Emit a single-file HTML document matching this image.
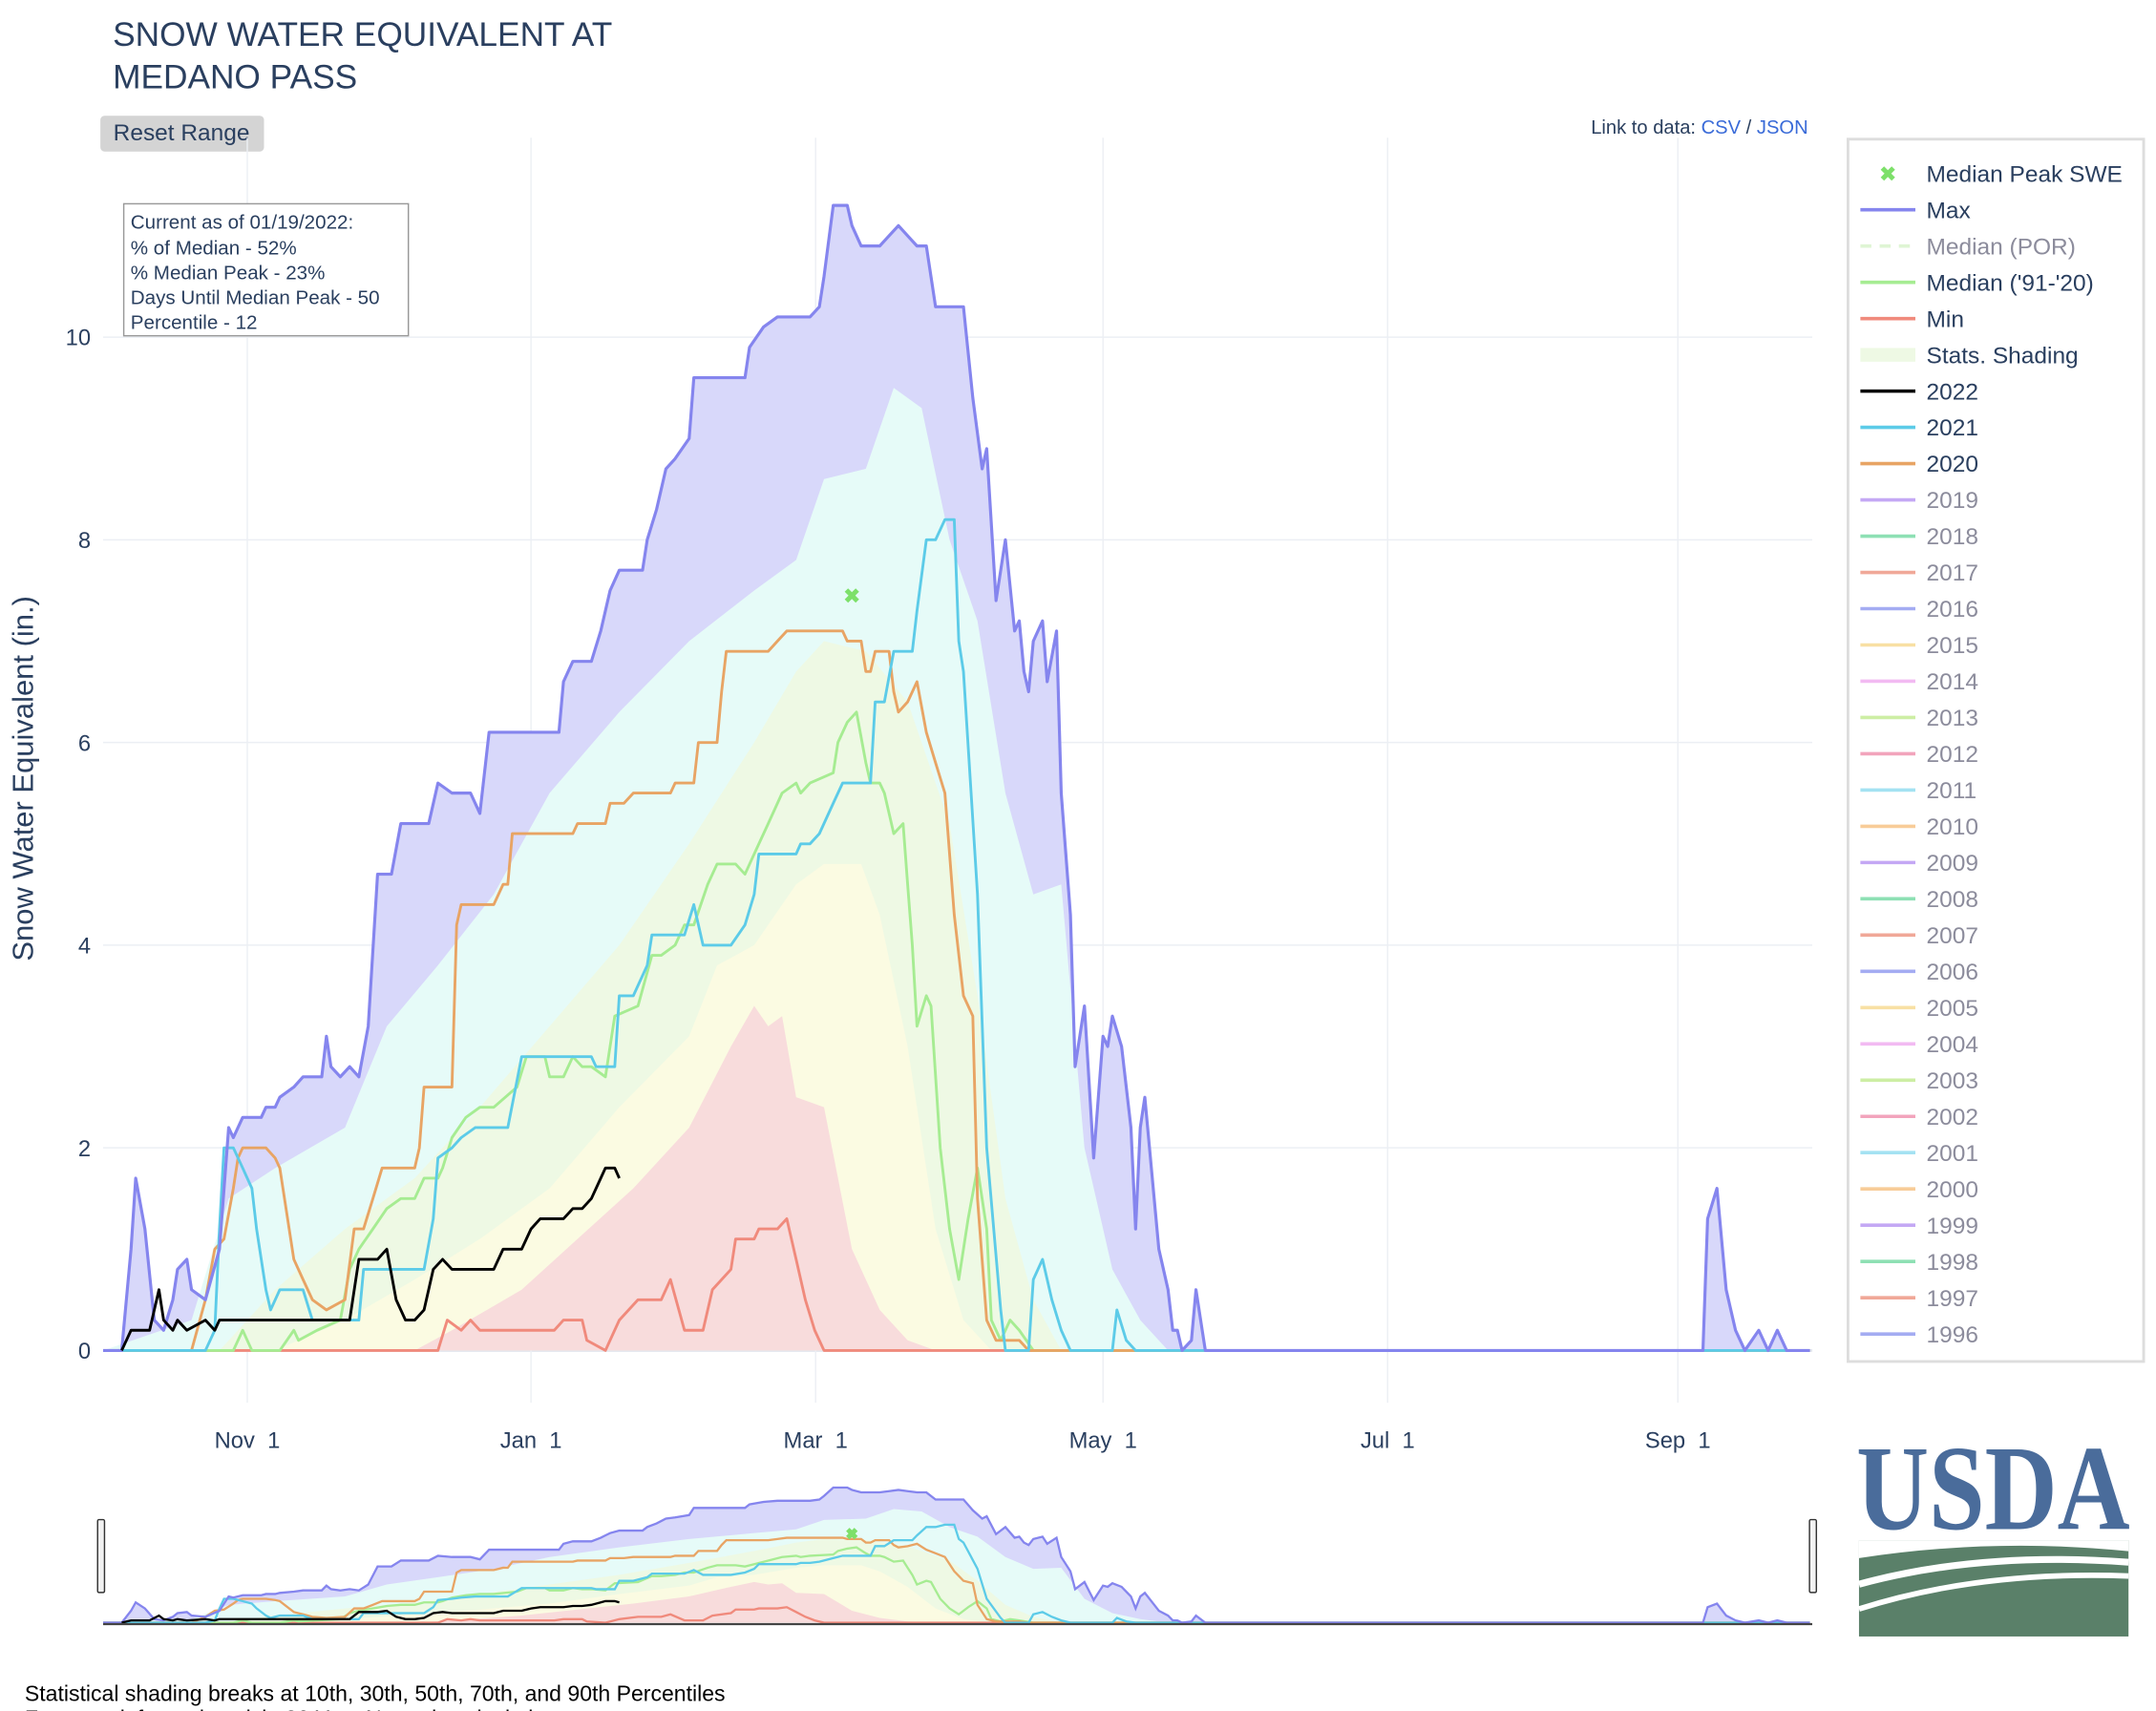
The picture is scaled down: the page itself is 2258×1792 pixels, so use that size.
<!DOCTYPE html>
<html><head><meta charset="utf-8"><style>
html,body{margin:0;padding:0;background:#fff;}
svg{display:block;font-family:"Liberation Sans",sans-serif;}
</style></head><body>
<svg id="chart" width="2258" height="1792" viewBox="0 0 1568 1244" xmlns="http://www.w3.org/2000/svg">
<text x="82" y="33" font-size="24.5" fill="#2a3f5f">SNOW WATER EQUIVALENT AT</text>
<text x="82" y="64" font-size="24.5" fill="#2a3f5f">MEDANO PASS</text>
<g><rect x="73" y="84" width="119" height="26" rx="3" fill="#d4d4d4"/><text x="132" y="102" font-size="17" fill="#2a3f5f" text-anchor="middle">Reset Range</text></g>
<text x="1315" y="97" font-size="14" fill="#2a3f5f" text-anchor="end">Link to data: <tspan fill="#3a6bd8">CSV</tspan> / <tspan fill="#3a6bd8">JSON</tspan></text>
<g id="grid"></g>
<g id="bands"></g>
<g id="lines"></g>
<g id="axes"></g>
<g>
<rect x="90" y="148" width="207" height="96" fill="#fff" stroke="#999"/>
<text x="95" y="166" font-size="14.3" fill="#2a3f5f">Current as of 01/19/2022:</text>
<text x="95" y="185" font-size="14.3" fill="#2a3f5f">% of Median - 52%</text>
<text x="95" y="203" font-size="14.3" fill="#2a3f5f">% Median Peak - 23%</text>
<text x="95" y="221" font-size="14.3" fill="#2a3f5f">Days Until Median Peak - 50</text>
<text x="95" y="239" font-size="14.3" fill="#2a3f5f">Percentile - 12</text>
</g>
<text transform="translate(24,566) rotate(-90)" font-size="21.5" fill="#2a3f5f" text-anchor="middle">Snow Water Equivalent (in.)</text>
<g id="nav"></g>
<rect x="1344" y="101" width="215" height="889" fill="#fff" stroke="#ddd" stroke-width="2"/>
<g id="legend"></g>
<g>
<text x="1350" y="1112" font-family="Liberation Serif,serif" font-weight="bold" font-size="88" fill="#4a6c9b" textLength="199" lengthAdjust="spacingAndGlyphs">USDA</text>
<rect x="1352" y="1120" width="196" height="70" fill="#5a8069"/>
<path d="M1352 1133 Q1450 1118 1548 1128 L1548 1120 L1352 1120 Z" fill="#fff"/>
<path d="M1352 1152 Q1440 1128 1548 1136" stroke="#fff" stroke-width="5" fill="none"/>
<path d="M1352 1170 Q1440 1142 1548 1146" stroke="#fff" stroke-width="4" fill="none"/>
</g>
<text x="18" y="1237" font-size="16" fill="#000">Statistical shading breaks at 10th, 30th, 50th, 70th, and 90th Percentiles</text>
<text x="18" y="1255" font-size="16" fill="#000">For more information visit: 30 Year Normals calculation</text>
</svg>
<script>
// data: [day index along x axis, SWE inches]
const maxSeries=[[0,0],[4,0],[6,1.0],[7,1.7],[9,1.2],[11,0.3],[13,0.2],[15,0.5],[16,0.8],[18,0.9],[19,0.6],[22,0.5],[25,1.0],[27,2.2],[28,2.1],[30,2.3],[34,2.3],[35,2.4],[37,2.4],[38,2.5],[41,2.6],[43,2.7],[47,2.7],[48,3.1],[49,2.8],[51,2.7],[53,2.8],[55,2.7],[57,3.2],[59,4.7],[62,4.7],[64,5.2],[70,5.2],[72,5.6],[75,5.5],[79,5.5],[81,5.3],[83,6.1],[98,6.1],[99,6.6],[101,6.8],[105,6.8],[107,7.1],[109,7.5],[111,7.7],[116,7.7],[117,8.0],[119,8.3],[121,8.7],[123,8.8],[126,9.0],[127,9.6],[138,9.6],[139,9.9],[142,10.1],[145,10.2],[152,10.2],[154,10.3],[155,10.6],[157,11.3],[160,11.3],[161,11.1],[163,10.9],[167,10.9],[169,11.0],[171,11.1],[173,11.0],[175,10.9],[177,10.9],[179,10.3],[185,10.3],[187,9.4],[189,8.7],[190,8.9],[192,7.4],[194,8.0],[196,7.1],[197,7.2],[198,6.7],[199,6.5],[200,7.0],[202,7.2],[203,6.6],[205,7.1],[206,5.5],[208,4.3],[209,2.8],[211,3.4],[213,1.9],[215,3.1],[216,3.0],[217,3.3],[219,3.0],[221,2.2],[222,1.2],[223,2.2],[224,2.5],[227,1.0],[229,0.6],[230,0.2],[231,0.2],[232,0],[234,0.1],[235,0.6],[237,0],[344,0],[345,1.3],[347,1.6],[349,0.6],[351,0.2],[353,0],[356,0.2],[358,0],[360,0.2],[362,0],[367,0]];
const minSeries=[[0,0],[72,0],[74,0.3],[77,0.2],[79,0.3],[81,0.2],[97,0.2],[99,0.3],[103,0.3],[104,0.1],[108,0],[111,0.3],[115,0.5],[120,0.5],[122,0.7],[125,0.2],[129,0.2],[131,0.6],[135,0.8],[136,1.1],[140,1.1],[141,1.2],[145,1.2],[147,1.3],[149,0.9],[151,0.5],[153,0.2],[155,0],[367,0]];
const wy2022=[[4,0],[6,0.2],[10,0.2],[12,0.6],[13,0.3],[15,0.2],[16,0.3],[18,0.2],[22,0.3],[24,0.2],[25,0.3],[53,0.3],[55,0.9],[59,0.9],[61,1.0],[63,0.5],[65,0.3],[67,0.3],[69,0.4],[71,0.8],[73,0.9],[75,0.8],[84,0.8],[86,1.0],[90,1.0],[92,1.2],[94,1.3],[99,1.3],[101,1.4],[103,1.4],[105,1.5],[107,1.7],[108,1.8],[110,1.8],[111,1.7]];
const wy2021=[[0,0],[22,0],[24,0.2],[25,1.2],[26,2.0],[28,2.0],[30,1.8],[32,1.6],[33,1.2],[35,0.6],[36,0.4],[38,0.6],[43,0.6],[45,0.3],[55,0.3],[56,0.8],[69,0.8],[71,1.3],[72,1.9],[75,2.0],[77,2.1],[80,2.2],[87,2.2],[90,2.9],[105,2.9],[106,2.8],[110,2.8],[111,3.5],[114,3.5],[117,3.8],[118,4.1],[125,4.1],[127,4.4],[129,4.0],[135,4.0],[138,4.2],[140,4.5],[141,4.9],[149,4.9],[150,5.0],[152,5.0],[154,5.1],[157,5.4],[159,5.6],[165,5.6],[166,6.4],[168,6.4],[170,6.9],[174,6.9],[175,7.3],[177,8.0],[179,8.0],[181,8.2],[183,8.2],[184,7.0],[185,6.7],[188,4.5],[190,2.0],[193,0.4],[194,0],[199,0],[200,0.7],[202,0.9],[204,0.5],[206,0.2],[208,0],[217,0],[218,0.4],[220,0.1],[222,0],[367,0]];
const wy2020=[[0,0],[19,0],[22,0.5],[24,1.0],[26,1.1],[28,1.6],[29,1.9],[30,2.0],[35,2.0],[37,1.9],[38,1.8],[40,1.2],[41,0.9],[43,0.7],[45,0.5],[48,0.4],[52,0.5],[54,1.2],[56,1.2],[58,1.5],[60,1.8],[67,1.8],[68,2.0],[69,2.6],[75,2.6],[76,4.2],[77,4.4],[84,4.4],[86,4.6],[87,4.6],[88,5.1],[101,5.1],[102,5.2],[108,5.2],[109,5.4],[112,5.4],[114,5.5],[122,5.5],[123,5.6],[127,5.6],[128,6.0],[132,6.0],[133,6.5],[134,6.9],[143,6.9],[145,7.0],[147,7.1],[159,7.1],[160,7.0],[163,7.0],[164,6.7],[165,6.7],[166,6.9],[169,6.9],[170,6.5],[171,6.3],[173,6.4],[175,6.6],[177,6.1],[179,5.8],[181,5.5],[183,4.3],[185,3.5],[187,3.3],[188,1.5],[190,0.3],[192,0.1],[197,0.1],[199,0],[367,0]];
const median9120=[[0,0],[28,0],[30,0.2],[32,0],[38,0],[41,0.2],[42,0.1],[46,0.2],[51,0.3],[53,0.8],[55,1.0],[58,1.2],[61,1.4],[64,1.5],[67,1.5],[69,1.7],[72,1.7],[73,1.8],[75,2.1],[78,2.3],[81,2.4],[84,2.4],[89,2.6],[91,2.9],[95,2.9],[96,2.7],[99,2.7],[101,2.9],[103,2.8],[105,2.8],[108,2.7],[110,3.3],[115,3.4],[118,3.9],[120,3.9],[123,4.0],[125,4.2],[127,4.2],[130,4.6],[132,4.8],[136,4.8],[138,4.7],[140,4.9],[143,5.2],[146,5.5],[149,5.6],[150,5.5],[152,5.6],[157,5.7],[158,6.0],[160,6.2],[162,6.3],[164,5.8],[165,5.6],[167,5.6],[168,5.5],[170,5.1],[172,5.2],[173,4.6],[174,4.0],[175,3.2],[177,3.5],[178,3.4],[180,2.0],[182,1.2],[184,0.7],[186,1.3],[188,1.8],[190,1.2],[191,0.3],[193,0.1],[195,0.3],[197,0.2],[200,0],[367,0]];
const p90=[[0,0],[19,0.3],[27,1.5],[37,1.8],[52,2.2],[61,3.2],[72,3.8],[84,4.5],[96,5.5],[111,6.3],[126,7.0],[140,7.5],[149,7.8],[155,8.6],[164,8.7],[170,9.5],[176,9.3],[182,8.0],[188,7.2],[194,5.5],[200,4.5],[206,4.6],[211,2.0],[217,0.8],[223,0.3],[229,0],[367,0]];
const p70=[[0,0],[25,0],[37,0.6],[52,1.2],[67,1.7],[81,2.4],[96,3.2],[111,4.0],[126,5.0],[140,6.0],[149,6.7],[155,7.0],[164,6.9],[173,6.4],[182,5.2],[188,3.5],[194,1.5],[200,0.5],[206,0],[367,0]];
const p50=[[0,0],[37,0],[52,0.3],[67,0.7],[81,1.1],[96,1.6],[111,2.4],[126,3.1],[132,3.8],[140,4.0],[149,4.6],[155,4.8],[163,4.8],[167,4.3],[173,3.0],[179,1.2],[185,0.3],[191,0],[367,0]];
const p30=[[0,0],[67,0],[75,0.2],[90,0.6],[102,1.1],[114,1.6],[126,2.2],[135,3.0],[140,3.4],[143,3.2],[146,3.3],[149,2.5],[155,2.4],[161,1.0],[167,0.4],[173,0.1],[179,0],[367,0]];
const medianPeak=[161,7.45];
const yTicks=[0,2,4,6,8,10];
const xTickDays=[31,92,153.2,215,276.2,338.6];
const xTickLabels=["Nov\u00a0\u00a01","Jan\u00a0\u00a01","Mar\u00a0\u00a01","May\u00a0\u00a01","Jul\u00a0\u00a01","Sep\u00a0\u00a01"];
const legendNames=["Median Peak SWE","Max","Median (POR)","Median ('91-'20)","Min","Stats. Shading","2022","2021","2020","2019","2018","2017","2016","2015","2014","2013","2012","2011","2010","2009","2008","2007","2006","2005","2004","2003","2002","2001","2000","1999","1998","1997","1996"];

const NS="http://www.w3.org/2000/svg";
const X0=75,X1=1318,DAYS=367.5;
const X=d=>X0+d*(X1-X0)/DAYS;
const Y=v=>982-v*73.7;
const NY=v=>1180-v*8.7;
function mk(tag,attrs,parent){const e=document.createElementNS(NS,tag);for(const k in attrs)e.setAttribute(k,attrs[k]);parent.appendChild(e);return e;}
const grid=document.getElementById('grid'),bands=document.getElementById('bands'),lines=document.getElementById('lines'),axes=document.getElementById('axes'),nav=document.getElementById('nav'),legend=document.getElementById('legend');
yTicks.forEach(t=>{
 const l=mk('line',{x1:X0,x2:X1,y1:Y(t),y2:Y(t),stroke:t===0?'#e2e6ee':'#eceff4','stroke-width':t===0?2:1},grid);
 
 
 const tx=mk('text',{x:66,y:Y(t)+6,'font-size':16.5,fill:'#2a3f5f','text-anchor':'end'},axes);
 tx.textContent=t;
 
 
});
xTickDays.forEach((d,i)=>{
 const l=mk('line',{x1:X(d),x2:X(d),y1:100,y2:1020,stroke:'#eceff4'},grid);
 
 
 const tx=mk('text',{x:X(d),y:1053,'font-size':16.5,fill:'#2a3f5f','text-anchor':'middle'},axes);
 tx.textContent=xTickLabels[i];
 
 
});
function area(arr,ys){let s='M'+X(arr[0][0])+' '+ys(0);arr.forEach(p=>s+=' L'+X(p[0]).toFixed(1)+' '+ys(p[1]).toFixed(1));return s+' L'+X(arr[arr.length-1][0])+' '+ys(0)+' Z';}
function line(arr,ys){return arr.map((p,i)=>(i?'L':'M')+X(p[0]).toFixed(1)+' '+ys(p[1]).toFixed(1)).join(' ');}
const bandDefs=[[maxSeries,'#d8d8fa','band-max'],[p90,'#e6fbf8','band-90'],[p70,'#eef9e4','band-70'],[p50,'#fbfbe2','band-50'],[p30,'#f8dcdc','band-30']];
const lineDefs=[[minSeries,'#f08a7c',2,'min-line'],[median9120,'#a6ec92',2,'median-line'],[wy2020,'#e8a464',2,'line-2020'],[wy2021,'#5ccbe8',2,'line-2021'],[maxSeries,'#8585ee',2.2,'max-line'],[wy2022,'#000',2,'line-2022']];
bandDefs.forEach(b=>{
 const p=mk('path',{d:area(b[0],Y),fill:b[1]},bands);
 
 
 const q=mk('path',{d:area(b[0],NY),fill:b[1]},nav);
 
 
});
lineDefs.forEach(l=>{
 const p=mk('path',{d:line(l[0],Y),stroke:l[1],'stroke-width':l[2],fill:'none','stroke-linejoin':'round'},lines);
 
 
 const q=mk('path',{d:line(l[0],NY),stroke:l[1],'stroke-width':1.6,fill:'none'},nav);
 
 
});
function marker(cx,cy,s,parent,name){
 const g=mk('path',{d:`M${cx-s} ${cy-s} L${cx+s} ${cy+s} M${cx+s} ${cy-s} L${cx-s} ${cy+s}`,stroke:'#7de06a','stroke-width':3.5},parent);
 
 
}
marker(X(medianPeak[0]),Y(medianPeak[1]),4,lines,'median-peak-marker');
marker(X(medianPeak[0]),NY(medianPeak[1]),3,nav,'nav-median-peak-marker');
mk('line',{x1:X0,x2:X1,y1:1181,y2:1181,stroke:'#444','stroke-width':1.5},nav);
[X0-2,X1].forEach(x=>{
 const h=mk('rect',{x:x-2,y:1105,width:5,height:53,rx:1,fill:'#f2f2f2',stroke:'#333'},nav);
 
 
});
const yearColors=['#c4a8f4','#8ee0b4','#f0a898','#a4acf2','#f8e0a4','#f2baf2','#cdeea4','#f2a4bc','#a4e2f2','#f8cc98'];
legendNames.forEach((n,i)=>{
 const y=126+i*26.375;
 let color,tc='#2a3f5f';
 if(i===0){marker(1373,y,4,legend,'legend-marker-median-peak');}
 else if(i===5){const r=mk('rect',{x:1353,y:y-5,width:40,height:10,fill:'#eef9e4'},legend);}
 else{
  let dash='';
  if(i===1)color='#8585ee';else if(i===2){color='#dff5d4';dash='8 6';tc='#8c8c9c';}else if(i===3)color='#a6ec92';else if(i===4)color='#f08a7c';
  else if(i===6)color='#000';else if(i===7)color='#5ccbe8';else if(i===8)color='#e8a464';
  else{color=yearColors[(i-9)%10];tc='#8c8c9c';}
  const l=mk('line',{x1:1353,x2:1393,y1:y,y2:y,stroke:color,'stroke-width':2.5,'stroke-dasharray':dash},legend);
  
  
 }
 const t=mk('text',{x:1401,y:y+6,'font-size':17,fill:tc},legend);
 t.textContent=n;
 
 
});
</script>
</body></html>
